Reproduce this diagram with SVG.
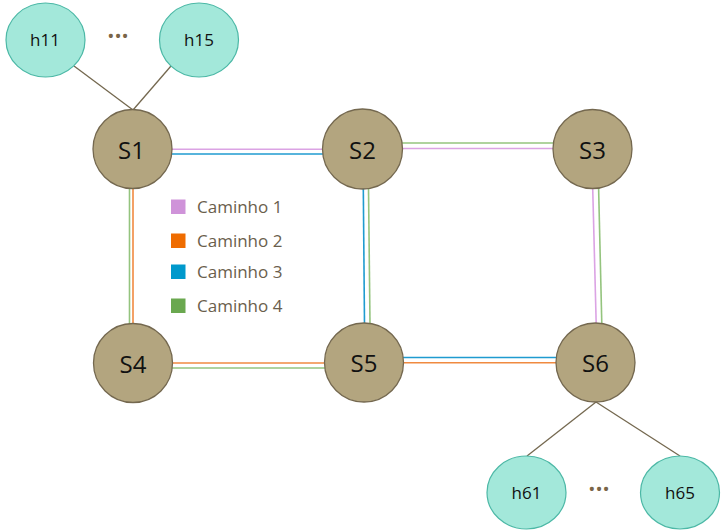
<svg xmlns="http://www.w3.org/2000/svg" width="723" height="532" viewBox="0 0 723 532">
<style>
.sw{fill:#b3a57f;stroke:#74684f;stroke-width:1.3}
.host{fill:#a3e8da;stroke:#4cb8a6;stroke-width:1.2}
.lbl{font-family:"Open Sans","Liberation Sans",sans-serif;fill:#111;text-anchor:middle}
.sl{font-size:24px}
.hl{font-size:17px}
.leg{font-family:"Open Sans","Liberation Sans",sans-serif;font-size:17px;fill:#6a5e4c}
.dots{font-family:"Open Sans","Liberation Sans",sans-serif;font-size:19px;fill:#7a6548;text-anchor:middle}
.hc{stroke:#74684f;stroke-width:1.3;fill:none}
.p1{stroke:#dba3e4;stroke-width:1.6;fill:none}
.p2{stroke:#f08a40;stroke-width:1.6;fill:none}
.p3{stroke:#1f9bd0;stroke-width:1.6;fill:none}
.p4{stroke:#94c47e;stroke-width:1.6;fill:none}
</style>
<rect width="723" height="532" fill="#fff"/>
<g id="connectors">
<line class="hc" x1="74" y1="66" x2="133" y2="110"/>
<line class="hc" x1="171" y1="66" x2="133" y2="110"/>
<line class="hc" x1="596" y1="402" x2="527" y2="456"/>
<line class="hc" x1="596" y1="402" x2="680" y2="456"/>
<line class="p1" x1="171" y1="149.3" x2="323" y2="149.3"/>
<line class="p3" x1="171" y1="154" x2="323" y2="154"/>
<line class="p4" x1="402" y1="143" x2="554" y2="143"/>
<line class="p1" x1="402" y1="148.5" x2="554" y2="148.5"/>
<line class="p4" x1="129.5" y1="188" x2="129.5" y2="324"/>
<line class="p2" x1="133" y1="188" x2="133" y2="324"/>
<line class="p3" x1="363.3" y1="188" x2="364.5" y2="324"/>
<line class="p4" x1="368.5" y1="188" x2="370" y2="324"/>
<line class="p1" x1="592.7" y1="188" x2="596.2" y2="324"/>
<line class="p4" x1="598.6" y1="188" x2="601.8" y2="324"/>
<line class="p2" x1="172" y1="363" x2="325" y2="363"/>
<line class="p4" x1="172" y1="368" x2="325" y2="368"/>
<line class="p3" x1="403" y1="357.5" x2="557" y2="357.5"/>
<line class="p2" x1="403" y1="362.7" x2="557" y2="362.7"/>
</g>
<g id="h11"><ellipse class="host" cx="45.5" cy="40" rx="39.5" ry="37"/><text class="lbl hl" x="45" y="46">h11</text></g>
<g id="h15"><ellipse class="host" cx="199" cy="40" rx="39.5" ry="37"/><text class="lbl hl" x="199" y="46">h15</text></g>
<text class="dots" x="118" y="43">•••</text>
<g id="S1"><circle class="sw" cx="132.5" cy="149" r="39.5"/><text class="lbl sl" x="131.5" y="158.5">S1</text></g>
<g id="S2"><circle class="sw" cx="362.5" cy="149" r="40"/><text class="lbl sl" x="362.5" y="158.5">S2</text></g>
<g id="S3"><circle class="sw" cx="592.5" cy="149" r="39.5"/><text class="lbl sl" x="592.5" y="158.5">S3</text></g>
<g id="S4"><circle class="sw" cx="133" cy="363" r="39.5"/><text class="lbl sl" x="133" y="372.5">S4</text></g>
<g id="S5"><circle class="sw" cx="364" cy="362.5" r="39.5"/><text class="lbl sl" x="364" y="372">S5</text></g>
<g id="S6"><circle class="sw" cx="595.5" cy="362.5" r="39.5"/><text class="lbl sl" x="595.5" y="372">S6</text></g>
<g id="h61"><ellipse class="host" cx="526.5" cy="492.5" rx="39.5" ry="36.5"/><text class="lbl hl" x="526.5" y="498.5">h61</text></g>
<g id="h65"><ellipse class="host" cx="680" cy="492.5" rx="39.5" ry="36.5"/><text class="lbl hl" x="680" y="498.5">h65</text></g>
<text class="dots" x="599" y="496">•••</text>
<g id="legend">
<rect x="171" y="199.5" width="14.5" height="14.5" fill="#cf93d9"/>
<rect x="171" y="233.5" width="14.5" height="14.5" fill="#ef6c00"/>
<rect x="171" y="264.5" width="14.5" height="14.5" fill="#0099cc"/>
<rect x="171" y="298.5" width="14.5" height="14.5" fill="#6aa84f"/>
<text class="leg" x="197" y="213">Caminho 1</text>
<text class="leg" x="197" y="247">Caminho 2</text>
<text class="leg" x="197" y="278">Caminho 3</text>
<text class="leg" x="197" y="312">Caminho 4</text>
</g>
</svg>
